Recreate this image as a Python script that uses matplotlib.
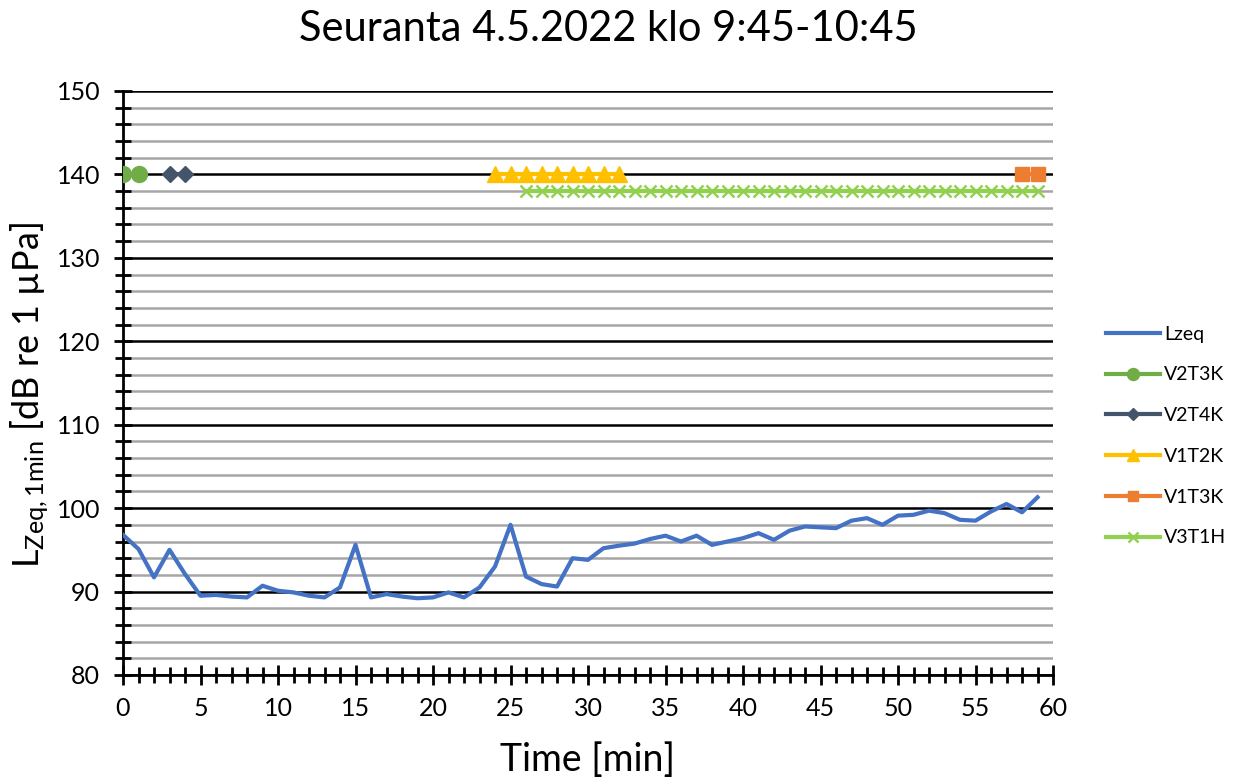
import matplotlib
matplotlib.use("Agg")
import matplotlib.pyplot as plt
from matplotlib.ticker import MultipleLocator

plt.rcParams['font.family'] = ['Lato', 'DejaVu Sans']
plt.rcParams['mathtext.fontset'] = 'custom'
plt.rcParams['mathtext.rm'] = 'Lato'
plt.rcParams['mathtext.it'] = 'Lato'

# Minute-averaged level, minutes 0..59
minutes = list(range(60))
lzeq = [96.8, 95.1, 91.7, 95.0, 92.1, 89.5, 89.6, 89.4, 89.3, 90.7,
        90.1, 89.9, 89.5, 89.3, 90.5, 95.6, 89.3, 89.7, 89.4, 89.2,
        89.3, 89.9, 89.3, 90.5, 93.0, 98.0, 91.8, 90.9, 90.6, 94.0,
        93.8, 95.2, 95.5, 95.75, 96.3, 96.7, 96.0, 96.7, 95.6, 96.0,
        96.4, 97.0, 96.2, 97.3, 97.8, 97.7, 97.6, 98.5, 98.8, 98.0,
        99.1, 99.2, 99.7, 99.4, 98.6, 98.5, 99.6, 100.5, 99.5, 101.3]

# Vessel passage indicators (minute, level marker)
v2t3k_x = [0, 1]
v2t3k_y = [140, 140]
v2t4k_x = [3, 4]
v2t4k_y = [140, 140]
v1t2k_x = list(range(24, 33))
v1t2k_y = [140] * len(v1t2k_x)
v1t3k_x = [58, 59]
v1t3k_y = [140, 140]
v3t1h_x = list(range(26, 60))
v3t1h_y = [138] * len(v3t1h_x)

fig = plt.figure(figsize=(12.36, 7.8), dpi=100)
ax = fig.add_axes([123 / 1236, 1 - 675 / 780, (1053 - 123) / 1236, (675 - 91) / 780])

LW = 3.0
ax.plot(minutes, lzeq, color='#4472C4', lw=LW, label='Lzeq', zorder=5,
        solid_joinstyle='round')
ax.plot(v2t3k_x, v2t3k_y, color='#70AD47', lw=LW, marker='o', ms=11.5,
        label='V2T3K', zorder=6)
ax.plot(v2t4k_x, v2t4k_y, color='#44546A', lw=LW, marker='D', ms=8,
        label='V2T4K', zorder=6)
ax.plot(v1t2k_x, v1t2k_y, color='#FFC000', lw=LW, marker='^', ms=11.5,
        label='V1T2K', zorder=6)
ax.plot(v1t3k_x, v1t3k_y, color='#ED7D31', lw=LW, marker='s', ms=10.5,
        label='V1T3K', zorder=6)
ax.plot(v3t1h_x, v3t1h_y, color='#92D050', lw=LW, marker='x', ms=9,
        mew=1.8, label='V3T1H', zorder=6)

ax.set_xlim(0, 60)
ax.set_ylim(80, 150)
ax.xaxis.set_major_locator(MultipleLocator(5))
ax.xaxis.set_minor_locator(MultipleLocator(1))
ax.yaxis.set_major_locator(MultipleLocator(10))
ax.yaxis.set_minor_locator(MultipleLocator(2))

ax.grid(which='minor', axis='y', color='#A6A6A6', lw=1.8, zorder=1)
ax.grid(which='major', axis='y', color='black', lw=1.8, zorder=2)
ax.set_axisbelow(True)

for s in ['top', 'right']:
    ax.spines[s].set_visible(False)
for s in ['left', 'bottom']:
    ax.spines[s].set_linewidth(2)
    ax.spines[s].set_zorder(3)

ax.tick_params(axis='x', which='major', direction='inout', length=14, width=2,
               labelsize=18, pad=9)
ax.tick_params(axis='x', which='minor', direction='inout', length=11, width=2)
ax.tick_params(axis='y', which='both', direction='inout', length=13, width=2,
               labelsize=18, pad=10)
ax.tick_params(axis='y', which='minor', length=12)

fig.text(588 / 1236, 1 - 760 / 780, 'Time [min]', fontsize=27,
         ha='center', va='center')
fig.text(30 / 1236, 1 - 395 / 780, r'L$_{\mathrm{Zeq,1min}}$ [dB re 1 µPa]',
         rotation=90, fontsize=26, ha='center', va='center')

fig.text(608 / 1236, 1 - 29 / 780, 'Seuranta 4.5.2022 klo 9:45-10:45',
         fontsize=30, ha='center', va='center')

leg = fig.legend(loc='center left', bbox_to_anchor=(1088 / 1236, 1 - 436 / 780),
                 frameon=False, fontsize=14, handlelength=2.8, labelspacing=1.22,
                 markerscale=0.75, handletextpad=0.2)

fig.savefig('out.png', dpi=100)
